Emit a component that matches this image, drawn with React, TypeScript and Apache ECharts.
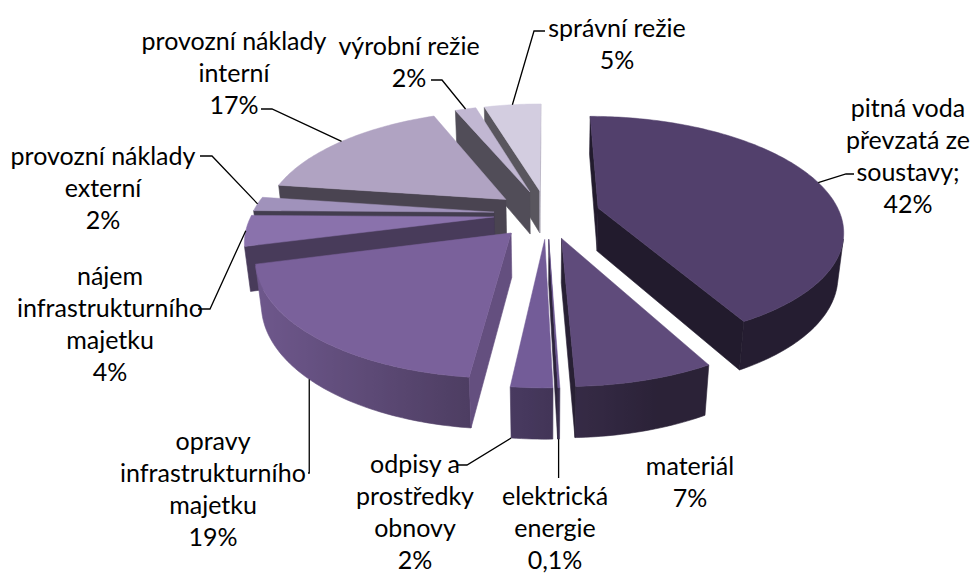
import React, { useEffect, useRef } from "react";
import * as echarts from "echarts";

// ---------- data ----------
const categories = [
  "pitná voda převzatá ze soustavy",
  "materiál",
  "elektrická energie",
  "odpisy a prostředky obnovy",
  "opravy infrastrukturního majetku",
  "nájem infrastrukturního majetku",
  "provozní náklady externí",
  "provozní náklady interní",
  "výrobní režie",
  "správní režie",
];
const labelLines = [
  ["pitná voda", "převzatá ze", "soustavy;"],
  ["materiál"],
  ["elektrická", "energie"],
  ["odpisy a", "prostředky", "obnovy"],
  ["opravy", "infrastrukturního", "majetku"],
  ["nájem", "infrastrukturního", "majetku"],
  ["provozní náklady", "externí"],
  ["provozní náklady", "interní"],
  ["výrobní režie"],
  ["správní režie"],
];
const values = [42.3, 7.4, 0.1, 2.2, 19.3, 4.3, 2.0, 16.6, 1.7, 4.6];

// ---------- styles / layout ----------
const colors = [
  "#52406c", "#5f4b7b", "#6a5590", "#735c98", "#7a619b",
  "#8a72ac", "#a092bb", "#b0a3c2", "#c1b7d2", "#d3cde0",
];
type Layout = {
  x: number; y: number;
  leader: number[][] | null;
  anchor?: "top" | "bottom";
  frac?: number;
  vertical?: boolean;
};
const labelLayout: Layout[] = [
  { x: 908, y: 107, leader: [[854, 174], [846, 174]], anchor: "top", frac: 0.5 },
  { x: 690, y: 465, leader: null },
  { x: 555, y: 495, leader: [[0, 478]], anchor: "bottom", frac: 0.5, vertical: true },
  { x: 415, y: 463, leader: [[457, 465], [467, 465]], anchor: "bottom", frac: 1 },
  { x: 213, y: 440, leader: [[308, 473], [0, 473]], anchor: "bottom", frac: 0.55, vertical: true },
  { x: 110, y: 275, leader: [[198, 309], [210, 309]], anchor: "top", frac: 0.5 },
  { x: 103, y: 155, leader: [[200, 156], [212, 156]], anchor: "top", frac: 0.5 },
  { x: 234, y: 40, leader: [[261, 109], [272, 109]], anchor: "top", frac: 0.5 },
  { x: 409, y: 45, leader: [[431, 80], [442, 80]], anchor: "top", frac: 0.5 },
  { x: 617, y: 27, leader: [[545, 31], [534, 31]], anchor: "top", frac: 0.5 },
];
const LINE_H = 32;
const FONT = "Lato, 'Open Sans', sans-serif";
const FONT_SIZE = 25;

// ---------- 3D projection ----------
const CX = 547, CY = 214, R = 242;
const SINA = 0.457, COSA = Math.sqrt(1 - SINA * SINA);
const D = 4.84, T = 0.205, EXPL = 0.22;
const TAU = Math.PI * 2;
const CAM = [0, D * SINA, D * COSA];

function proj(X: number, Z: number, Y: number): number[] {
  const yc = Y * COSA - Z * SINA;
  const zc = Y * SINA + Z * COSA;
  const f = D / (D - zc);
  return [CX + R * X * f, CY - R * yc * f];
}
function visible(n: number[], p: number[]) {
  return (CAM[0] - p[0]) * n[0] + (CAM[1] - p[1]) * n[1] + (CAM[2] - p[2]) * n[2] > 0;
}
function shade(hex: string, f: number) {
  const r = parseInt(hex.slice(1, 3), 16), g = parseInt(hex.slice(3, 5), 16), b = parseInt(hex.slice(5, 7), 16);
  const c = (x: number) => Math.max(0, Math.min(255, Math.round(x * f)));
  return `rgb(${c(r)},${c(g)},${c(b)})`;
}
const rimFactor = (th: number) => 0.45 + 0.45 * Math.max(0, -0.95 * Math.sin(th) - 0.3 * Math.cos(th));

const total = values.reduce((a, b) => a + b, 0);
const startAngles: number[] = [];
{
  let acc = 0;
  values.forEach((v) => { startAngles.push((acc / total) * TAU); acc += v; });
}
const midZ = values.map((v, i) => -Math.cos(startAngles[i] + ((v / total) * TAU) / 2));
const depthRank: number[] = [];
values.map((_, i) => i).sort((a, b) => midZ[a] - midZ[b]).forEach((idx, r) => { depthRank[idx] = r; });

function pctText(v: number) {
  const p = (v / total) * 100;
  return p < 1 ? p.toFixed(1).replace(".", ",") + "%" : Math.round(p) + "%";
}

function renderSlice(i: number, v: number) {
  const a0 = startAngles[i];
  const a1 = a0 + (v / total) * TAU;
  const m = (a0 + a1) / 2;
  const ox = EXPL * Math.sin(m), oz = -EXPL * Math.cos(m);
  const P = (th: number, Y: number) => proj(ox + Math.sin(th), oz - Math.cos(th), Y);
  const A = (Y: number) => proj(ox, oz, Y);
  const base = colors[i];
  const zb = depthRank[i] * 10;
  const children: any[] = [];
  const n = Math.max(2, Math.ceil((a1 - a0) / (Math.PI / 180)) + 1);
  const ths: number[] = [];
  for (let k = 0; k < n; k++) ths.push(a0 + ((a1 - a0) * k) / (n - 1));
  const topPts = ths.map((t) => P(t, 0));
  const botPts = ths.map((t) => P(t, -T));

  // outer wall
  let run: number[] = [];
  const flush = () => {
    if (run.length >= 2) {
      const pts = run.map((k) => topPts[k]).concat(run.slice().reverse().map((k) => botPts[k]));
      const xs = run.map((k) => topPts[k][0]);
      const x0 = Math.min(...xs), x1 = Math.max(...xs);
      let fill: any;
      if (x1 - x0 < 1) fill = shade(base, rimFactor(ths[run[0]]));
      else {
        const stops = run
          .map((k) => ({ offset: (topPts[k][0] - x0) / (x1 - x0), color: shade(base, rimFactor(ths[k])) }))
          .sort((a, b) => a.offset - b.offset);
        fill = new echarts.graphic.LinearGradient(x0, 0, x1, 0, stops, true);
      }
      children.push({ type: "polygon", shape: { points: pts }, style: { fill, stroke: fill, lineWidth: 0.6 }, z2: zb + 1 });
    }
    run = [];
  };
  for (let k = 0; k < n - 1; k++) {
    const tm = (ths[k] + ths[k + 1]) / 2;
    const vis = visible([Math.sin(tm), 0, -Math.cos(tm)], [ox + Math.sin(tm), -T / 2, oz - Math.cos(tm)]);
    if (vis) { if (run.length === 0) run.push(k); run.push(k + 1); } else flush();
  }
  flush();

  // radial cut faces
  const faces = [
    { th: a0, nrm: [-Math.cos(a0), 0, -Math.sin(a0)] },
    { th: a1, nrm: [Math.cos(a1), 0, Math.sin(a1)] },
  ];
  faces.forEach((fc) => {
    const pm = [ox + 0.5 * Math.sin(fc.th), -T / 2, oz - 0.5 * Math.cos(fc.th)];
    if (!visible(fc.nrm, pm)) return;
    const col = shade(base, 0.42 + 0.4 * Math.max(0, fc.nrm[0]));
    children.push({
      type: "polygon",
      shape: { points: [A(0), P(fc.th, 0), P(fc.th, -T), A(-T)] },
      style: { fill: col, stroke: col, lineWidth: 0.6 },
      z2: zb + 2,
    });
  });

  // top face
  children.push({
    type: "polygon",
    shape: { points: [A(0)].concat(topPts) },
    style: { fill: base, stroke: base, lineWidth: 0.5 },
    z2: zb + 5,
  });

  // label
  const lay = labelLayout[i];
  const lines = labelLines[i].concat([pctText(v)]);
  lines.forEach((t, li) => {
    children.push({
      type: "text",
      x: lay.x,
      y: lay.y + li * LINE_H,
      style: { text: t, fill: "#000", fontSize: FONT_SIZE, fontFamily: FONT, align: "center", verticalAlign: "middle" },
      z2: 1000,
    });
  });
  if (lay.leader) {
    const th = a0 + (a1 - a0) * (lay.frac ?? 0.5);
    const anc = P(th, lay.anchor === "bottom" ? -T : 0);
    let pts = lay.leader.map((p) => p.slice());
    if (lay.vertical) pts = pts.map((p) => (p[0] === 0 ? [anc[0], p[1]] : p));
    pts.push(anc);
    children.push({
      type: "polyline",
      shape: { points: pts },
      style: { stroke: "#000", lineWidth: 1.3, fill: null },
      z2: 999,
    });
  }
  return { type: "group", children };
}

export default function App() {
  const ref = useRef<HTMLDivElement>(null);
  useEffect(() => {
    const chart = echarts.init(ref.current!, null, { renderer: "svg" });
    chart.setOption({
      animation: false,
      backgroundColor: "#ffffff",
      series: [
        {
          type: "custom",
          coordinateSystem: "none",
          silent: true,
          data: values.map((v, i) => ({ name: categories[i], value: v })),
          renderItem: (params: any, api: any) => renderSlice(params.dataIndex, api.value(0) as number),
        },
      ],
    });
    return () => chart.dispose();
  }, []);
  return <div ref={ref} style={{ position: "absolute", left: 0, top: 0, width: 977, height: 577 }} />;
}
